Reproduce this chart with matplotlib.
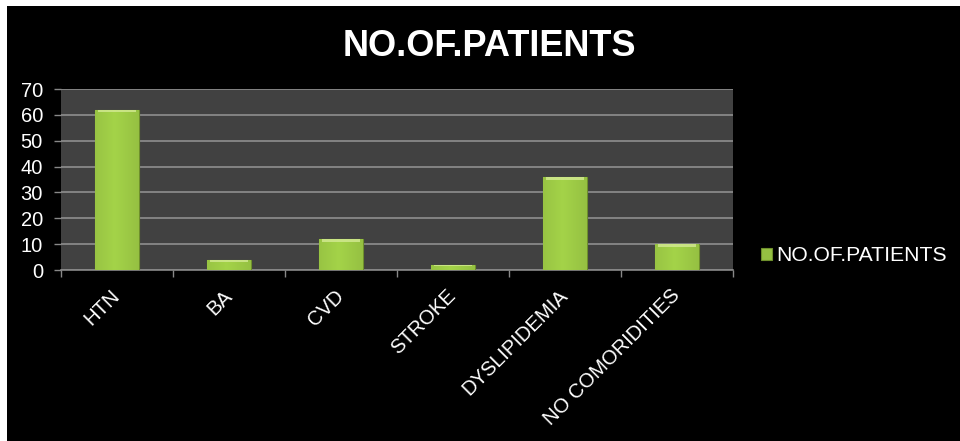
import matplotlib
matplotlib.use("Agg")
import matplotlib.pyplot as plt
import numpy as np
from matplotlib.patches import Rectangle

categories = ["HTN", "BA", "CVD", "STROKE", "DYSLIPIDEMIA", "NO COMORIDITIES"]
patients = [62, 4, 12, 2, 36, 10]
yticks = [0, 10, 20, 30, 40, 50, 60, 70]
series_name = "NO.OF.PATIENTS"

plt.rcParams['font.family'] = ['Liberation Sans', 'DejaVu Sans']

W, H = 960, 441
fig = plt.figure(figsize=(W/100, H/100), dpi=100, facecolor='white')
# black canvas with thin white margin on left/top
fig.patches.append(Rectangle((7/W, 0), 1 - 7/W, 1 - 6/H, transform=fig.transFigure,
                             facecolor='black', edgecolor='none', zorder=-10))

ax = fig.add_axes([61/W, 1 - 270/H, (733-61)/W, (270-89)/H])
ax.set_zorder(1)
ax.set_facecolor('#414141')
x = np.arange(len(categories))
bars = ax.bar(x, patients, width=0.39, color='#95c042', edgecolor='#6e8f2c',
              linewidth=0.8, zorder=3)

# horizontal gradient on bars for a bevelled look
grad = np.linspace(0, 1, 64)
shade = 1 - 0.35 * np.abs(grad - 0.45) * 2
cmap_img = np.zeros((1, 64, 3))
base = np.array([0x95, 0xc0, 0x42]) / 255
cmap_img[0] = np.clip(base[None, :] * (0.85 + 0.25 * shade[:, None]), 0, 1)
for b in bars:
    x0, w, h = b.get_x(), b.get_width(), b.get_height()
    im = ax.imshow(cmap_img, extent=[x0, x0 + w, 0, h], aspect='auto', zorder=3.5,
                   interpolation='bicubic')
    im.set_clip_path(b)
    # light top bevel
    ax.add_patch(Rectangle((x0 + w*0.06, h - min(1.0, h*0.3)), w*0.88, min(1.0, h*0.3),
                           facecolor='#d4ea94', edgecolor='none', alpha=0.8, zorder=4))

ax.set_xlim(-0.5, len(categories) - 0.5)
ax.set_ylim(0, 70)
ax.set_yticks(yticks)
ax.set_yticklabels([str(t) for t in yticks], color='white', fontsize=14.5)
ax.yaxis.grid(True, color='#8e8e8e', linewidth=1.2, zorder=1)
ax.set_axisbelow(True)

ax.set_xticks(np.arange(len(categories) + 1) - 0.5, minor=False)
ax.set_xticklabels([''] * (len(categories) + 1))
ax.tick_params(axis='x', colors='#888888', length=5, width=1)
ax.tick_params(axis='y', colors='#888888', length=5, width=1, labelcolor='white', pad=8)
for i, c in enumerate(categories):
    ax.text(i - 0.06, -6.2, c, rotation=45, ha='right', va='top', rotation_mode='anchor',
            color='white', fontsize=14.5)

for s in ['top', 'right']:
    ax.spines[s].set_visible(False)
ax.spines['left'].set_visible(False)
ax.spines['bottom'].set_color('#888888')
ax.spines['bottom'].set_linewidth(1.2)

fig.text(489/W, 1 - 47/H, "NO.OF.PATIENTS", color='white', fontsize=26, fontweight='bold',
         ha='center', va='center')

leg = ax.legend([bars], [series_name], loc='center left', bbox_to_anchor=(1.026, 0.08),
                frameon=False, fontsize=15.2, handlelength=0.5, handleheight=0.5,
                handletextpad=0.2, borderpad=0)
for t in leg.get_texts():
    t.set_color('white')

fig.savefig("out.png", dpi=100, facecolor='white')
